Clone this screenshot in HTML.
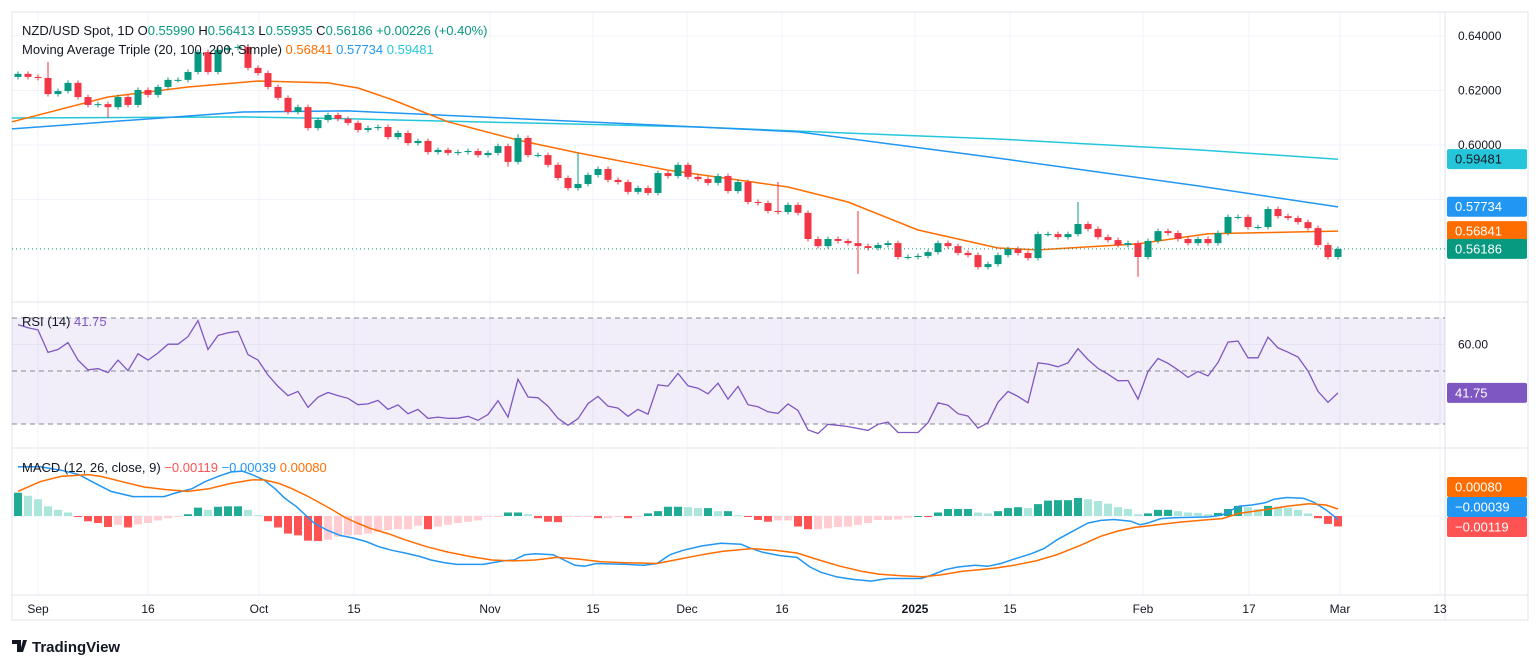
<!DOCTYPE html>
<html><head><meta charset="utf-8"><style>
body{margin:0;background:#fff;font-family:"Liberation Sans",sans-serif;}
svg{display:block}
</style></head><body>
<svg id="c" width="1536" height="667" xmlns="http://www.w3.org/2000/svg" font-family="Liberation Sans, sans-serif"></svg>
<script>
const closes=[0.6261,0.6250,0.6246,0.6187,0.6198,0.6228,0.6176,0.6147,0.6150,0.6139,0.6176,0.6147,0.6202,0.6184,0.6213,0.6239,0.6239,0.6268,0.6341,0.6268,0.6349,0.6356,0.6360,0.6283,0.6264,0.6213,0.6173,0.6121,0.6139,0.6062,0.6092,0.6110,0.6096,0.6081,0.6055,0.6062,0.6066,0.6029,0.6044,0.6007,0.6015,0.5974,0.5982,0.5971,0.5974,0.5978,0.5963,0.5971,0.5996,0.5938,0.6026,0.5963,0.5963,0.5927,0.5879,0.5842,0.5857,0.5890,0.5912,0.5872,0.5864,0.5828,0.5842,0.5824,0.5897,0.5886,0.5927,0.5883,0.5875,0.5861,0.5886,0.5831,0.5864,0.5791,0.5787,0.5758,0.5754,0.5780,0.5751,0.5655,0.5629,0.5655,0.5648,0.5640,0.5629,0.5622,0.5633,0.5640,0.5589,0.5589,0.5593,0.5607,0.5640,0.5629,0.5604,0.5596,0.5552,0.5563,0.5596,0.5618,0.5604,0.5585,0.5673,0.5673,0.5662,0.5673,0.5710,0.5692,0.5662,0.5651,0.5633,0.5640,0.5589,0.5648,0.5684,0.5677,0.5655,0.5640,0.5655,0.5640,0.5677,0.5736,0.5736,0.5699,0.5699,0.5765,0.5739,0.5732,0.5717,0.5695,0.5633,0.5589,0.56186];
const firstOpen=0.6250;
const bigWicks=[[3,0.6305,null],[9,null,0.6099],[56,0.5971,null],[76,0.5864,null],[84,0.5758,0.5527],[106,0.5791,null],[112,null,0.5516],[49,null,0.5920],[50,0.6040,null]];
const ma20Idx=[-1,9,17,24,31,34,37.5,43,50,56,65,77,83,90,98,102,112,119,132];
const ma20Val=[0.6085,0.6176,0.6213,0.6235,0.6228,0.6209,0.6165,0.6085,0.6018,0.5971,0.5908,0.5846,0.5791,0.5688,0.5622,0.5615,0.5637,0.5674,0.5684];
const ma100Idx=[-1,22.5,33,68,78,88,98,108,118,132];
const ma100Val=[0.6059,0.6121,0.6125,0.6066,0.6048,0.6000,0.5952,0.5901,0.5850,0.5773];
const ma200Idx=[-1,22.5,33,68,78,98,118,132];
const ma200Val=[0.6099,0.6103,0.6096,0.6066,0.6051,0.6022,0.5982,0.5948];
const rsi=[67.5,66.3,65.5,57.0,58.1,60.7,54.1,50.4,50.9,49.4,54.1,50.1,56.5,54.1,56.8,60.1,60.1,63.0,69.0,58.1,63.4,64.4,65.0,56.2,54.1,48.5,44.2,40.7,42.3,36.3,40.1,41.9,40.7,39.7,37.3,37.6,38.9,35.5,37.2,33.9,35.5,32.1,32.6,32.1,32.2,32.9,31.4,33.6,38.8,32.6,46.9,40.2,39.9,36.7,32.1,29.5,32.0,37.7,40.4,36.7,36.0,32.9,35.5,33.7,44.8,44.3,49.1,44.4,43.5,41.4,45.4,39.4,44.2,37.3,36.5,34.6,34.0,37.6,35.1,27.8,26.4,29.9,29.5,29.0,28.3,27.6,29.9,30.7,26.8,26.8,26.8,30.5,38.0,37.1,33.9,33.0,28.4,30.5,38.2,42.3,40.4,38.0,53.1,52.6,51.6,53.1,58.4,54.3,51.0,48.8,46.3,46.4,39.4,49.8,54.7,52.9,50.4,47.6,49.8,48.1,53.2,60.9,61.3,55.0,55.0,62.8,58.7,57.1,55.3,50.0,42.3,38.2,41.75];
const macdIdx=[0,2.2,4.3,6.1,7.4,9.3,11.5,14.6,15.7,17.4,18.7,20,21.3,22.4,23.4,24.6,25.7,26.7,27.8,29.6,30.9,32.2,33.5,34.8,36.1,37.4,38.7,40.2,41.3,42.6,43.9,46.5,48.5,49.6,50.7,51.7,53.5,54.6,55.7,56.7,57.8,60.9,62.6,63.9,65.2,66.5,68.4,70.3,72.3,73.1,74.4,76.2,77.9,79.2,80.3,81.8,83.5,85.3,87,90.3,91.4,92.7,94,95.7,97,98.3,99.6,101.3,102.6,103.9,105.2,107,108.3,109.6,111.3,112.2,113,114.3,115.6,119.1,120.4,122.1,123.4,124.7,125.6,126.9,128.6,129.5,130.8,132];
const macdVal=[5.6,5.6,5.2,4.7,3.9,2.8,2.2,2.2,2.6,3.1,3.9,4.5,5.0,5.1,4.7,4.1,3.1,2.0,1.1,-0.8,-1.6,-2.2,-2.5,-2.9,-3.5,-3.9,-4.2,-4.6,-5.0,-5.3,-5.5,-5.5,-5.1,-5.0,-4.4,-4.3,-4.4,-5.0,-5.6,-5.7,-5.4,-5.5,-5.6,-5.4,-4.4,-3.9,-3.4,-3.1,-3.2,-3.6,-4.1,-4.5,-4.7,-5.8,-6.4,-6.9,-7.2,-7.4,-7.1,-7.1,-6.7,-6.1,-5.8,-5.6,-5.7,-5.4,-4.9,-4.3,-3.7,-2.7,-1.9,-0.8,-0.5,-0.4,-0.6,-1.0,-0.8,-0.3,-0.2,-0.1,0.1,1.1,1.25,1.5,1.9,2.1,2.0,1.6,0.7,-0.39];
const sigIdx=[0,2.2,4.3,7,8.3,10.4,12.6,14.8,17,19.1,21.3,23.4,24.6,26.1,27.4,28.7,30,31.3,32.6,33.9,35.2,37,38.7,40.9,43,45.2,47.4,49.6,51.7,53.9,56.1,58.3,60.4,63.9,65.7,68.4,70.5,73.4,75.7,77.9,80.1,82.2,84.4,86.1,88.3,90.5,92.2,94.4,96.1,97.9,99.6,101.8,103.9,106.1,108.3,110,111.7,113.9,116.1,118.2,120.4,122.1,124.7,126.9,129.1,130.8,132];
const sigVal=[2.8,3.9,4.5,4.7,4.5,3.9,3.3,3.0,2.8,3.1,3.7,4.1,4.1,3.7,3.1,2.4,1.6,0.8,-0.1,-0.8,-1.4,-2.0,-2.7,-3.5,-4.1,-4.6,-5.0,-5.1,-5.0,-4.7,-4.9,-5.2,-5.3,-5.4,-5.0,-4.4,-4.0,-3.7,-3.9,-4.2,-5.0,-5.7,-6.3,-6.6,-6.8,-6.9,-6.7,-6.3,-6.1,-5.9,-5.6,-5.1,-4.4,-3.4,-2.3,-1.7,-1.3,-1.0,-0.7,-0.5,-0.3,0.3,0.7,1.1,1.4,1.25,0.80];
const hist=[2.65,2.3,1.9,1.1,0.7,0.4,-0.1,-0.6,-0.8,-1.25,-1.0,-1.3,-0.95,-0.8,-0.5,-0.25,-0.1,0.2,0.95,0.7,1.05,1.1,1.1,0.7,0.1,-0.6,-1.3,-2.0,-2.2,-2.8,-2.85,-2.7,-2.35,-2.2,-2.15,-2.0,-1.8,-1.6,-1.5,-1.5,-1.1,-1.5,-1.2,-1.0,-0.8,-0.65,-0.5,-0.1,-0.1,0.4,0.4,0.2,-0.25,-0.65,-0.7,-0.1,-0.1,-0.1,-0.25,-0.25,-0.1,-0.25,-0.1,0.3,0.55,1.05,1.05,1.0,0.9,0.9,0.55,0.55,0.1,-0.1,-0.45,-0.65,-0.5,-0.5,-1.2,-1.5,-1.5,-1.4,-1.25,-1.2,-1.0,-0.8,-0.45,-0.45,-0.4,-0.2,0,-0.05,0.4,0.8,0.8,0.8,0.4,0.3,0.55,0.9,1.0,0.9,1.35,1.75,1.8,1.8,2.05,1.9,1.7,1.4,1.0,0.8,0.2,0.3,0.7,0.7,0.55,0.4,0.35,0.2,0.35,0.8,1.15,1.0,0.8,1.15,1.05,0.95,0.7,0.3,-0.25,-0.9,-1.19];
const xTickIdx=[2,13,24.1,33.6,47.2,57.5,66.9,76.4,89.7,99.2,112.5,123.1,132.2,142.2];
const xTickLbl=["Sep","16","Oct","15","Nov","15","Dec","16","2025","15","Feb","17","Mar","13"];
const priceTicks=[0.64,0.62,0.60,0.58];
const rsiLevels=[70,50,30];
const macdTicks=[0.005,-0.005];

const NS="http://www.w3.org/2000/svg",svg=document.getElementById('c');
function el(t,a,p){const e=document.createElementNS(NS,t);for(const k in a)e.setAttribute(k,a[k]);(p||svg).appendChild(e);return e;}
const X=i=>18+10*i, PY=p=>254-(p-0.56)*2725, RY=v=>371-(v-50)*2.65, MY=v=>516-v*8.8;
const L=12,R=1445;
const grid=el('g',{});
xTickIdx.forEach(i=>el('line',{x1:X(i),x2:X(i),y1:12,y2:595,stroke:'#f0f3fa'},grid));
priceTicks.forEach(p=>el('line',{x1:L,x2:R,y1:PY(p),y2:PY(p),stroke:'#f0f3fa'},grid));
el('line',{x1:L,x2:R,y1:344.5,y2:344.5,stroke:'#f0f3fa'},grid);
macdTicks.concat([0]).forEach(v=>el('line',{x1:L,x2:R,y1:MY(v),y2:MY(v),stroke:'#f0f3fa'},grid));
el('rect',{x:12,y:12,width:1516,height:608,fill:'none',stroke:'#e0e3eb'});
[302,448,595].forEach(y=>el('line',{x1:12,x2:1528,y1:y,y2:y,stroke:'#e0e3eb'}));
el('line',{x1:R,x2:R,y1:12,y2:620,stroke:'#e0e3eb'});
function line(idx,val,Y,color,name){const d=idx.map((i,k)=>(k?'L':'M')+Math.max(L,X(i)).toFixed(1)+','+Y(val[k]).toFixed(1)).join('');const p=el('path',{d,fill:'none',stroke:color,'stroke-width':1.5,'stroke-linejoin':'round'});}
line(ma200Idx,ma200Val,PY,'#26c6da','ma200-line');
line(ma100Idx,ma100Val,PY,'#2196f3','ma100-line');
line(ma20Idx,ma20Val,PY,'#ff6d00','ma20-line');
const cg=el('g',{});
closes.forEach((c,i)=>{const o=i?closes[i-1]:firstOpen;let hi=Math.max(o,c)+0.0009,lo=Math.min(o,c)-0.0009;
 bigWicks.forEach(w=>{if(w[0]===i){if(w[1]!==null)hi=w[1];if(w[2]!==null)lo=w[2];}});
 const col=c>=o?'#089981':'#f23645',x=X(i);
 const g=el('g',{},cg);
 el('line',{x1:x,x2:x,y1:PY(hi),y2:PY(lo),stroke:col,'stroke-width':1},g);
 const t=PY(Math.max(o,c)),b=PY(Math.min(o,c));
 el('rect',{x:x-3.5,y:t,width:7,height:Math.max(1,b-t),fill:col},g);});
el('line',{x1:L,x2:R,y1:PY(closes[closes.length-1]),y2:PY(closes[closes.length-1]),stroke:'#089981','stroke-dasharray':'1 3'});
el('rect',{x:L,y:RY(70),width:R-L,height:RY(30)-RY(70),fill:'#7e57c2','fill-opacity':0.1});
rsiLevels.forEach(v=>el('line',{x1:L,x2:R,y1:RY(v),y2:RY(v),stroke:'#868993','stroke-dasharray':'5 4'}));
{const p=el('path',{d:rsi.map((v,i)=>(i?'L':'M')+X(i)+','+RY(v).toFixed(1)).join(''),fill:'none',stroke:'#7e57c2','stroke-width':1.3});}
const hg=el('g',{});
hist.forEach((v,i)=>{const pv=i?hist[i-1]:v;let col=v>=0?(v>=pv?'#22ab94':'#ace5dc'):(v<pv?'#ff5252':'#ffcdd2');
 const y0=MY(0),y1=MY(v);const r=el('rect',{x:X(i)-4,y:Math.min(y0,y1),width:8,height:Math.max(1,Math.abs(y1-y0)),fill:col},hg);
 });
line(macdIdx,macdVal,MY,'#2196f3','macd-line');
line(sigIdx,sigVal,MY,'#ff6d00','signal-line');
function txt(x,y,s,a){const t=el('text',Object.assign({x,y,'font-size':12,fill:'#131722'},a||{}));t.textContent=s;return t;}
priceTicks.slice(0,3).forEach(p=>{const t=txt(1458,PY(p)+4,p.toFixed(5));});
txt(1458,348.5,'60.00');
macdTicks.forEach(v=>txt(v<0?1452:1458,MY(v)+4,v.toFixed(5)));
xTickIdx.forEach((i,k)=>{const t=txt(X(i),613,xTickLbl[k],{'text-anchor':'middle','font-weight':xTickLbl[k]==='2025'?'bold':'normal'});});
function badge(y,s,bg,fg,name){const g=el('g',{});el('rect',{x:1447,y:y-10,width:80,height:20,rx:2,fill:bg},g);const t=el('text',{x:1455,y:y+4.5,'font-size':13,fill:fg},g);t.textContent=s;}
badge(PY(0.59481),'0.59481','#26c6da','#131722','ma200-badge');
badge(PY(0.57734),'0.57734','#2196f3','#fff','ma100-badge');
badge(PY(0.56841),'0.56841','#ff6d00','#fff','ma20-badge');
badge(PY(0.56186),'0.56186','#089981','#fff','price-badge');
badge(RY(41.75),'41.75','#7e57c2','#fff','rsi-badge');
badge(487,'0.00080','#ff6d00','#fff','signal-badge');
badge(507,'−0.00039','#2196f3','#fff','macd-badge');
badge(527,'−0.00119','#ff5252','#fff','hist-badge');
function leg(y,parts,name){const t=el('text',{x:22,y,'font-size':13,fill:'#131722'});parts.forEach(p=>{const s=el('tspan',{fill:p[1]},t);s.textContent=p[0];});}
const G='#089981';
leg(35,[['NZD/USD Spot, 1D  ','#131722'],['O','#131722'],['0.55990 ',G],['H','#131722'],['0.56413 ',G],['L','#131722'],['0.55935 ',G],['C','#131722'],['0.56186 +0.00226 (+0.40%)',G]],'price-legend');
leg(54,[['Moving Average Triple (20, 100, 200, Simple)  ','#131722'],['0.56841  ','#ff6d00'],['0.57734  ','#2196f3'],['0.59481','#26c6da']],'ma-legend');
leg(326,[['RSI (14)  ','#131722'],['41.75','#7e57c2']],'rsi-legend');
leg(472,[['MACD (12, 26, close, 9)  ','#131722'],['−0.00119  ','#ff5252'],['−0.00039  ','#2196f3'],['0.00080','#ff6d00']],'macd-legend');
const lg=el('g',{});
el('path',{d:'M12 640h9v12h-4v-8h-5zM23 640h4l-4 12h-3z',fill:'#131722'},lg);
const lt=el('text',{x:32,y:652,'font-size':15,fill:'#131722','font-weight':'bold'},lg);lt.textContent='TradingView';
</script>
</body></html>
